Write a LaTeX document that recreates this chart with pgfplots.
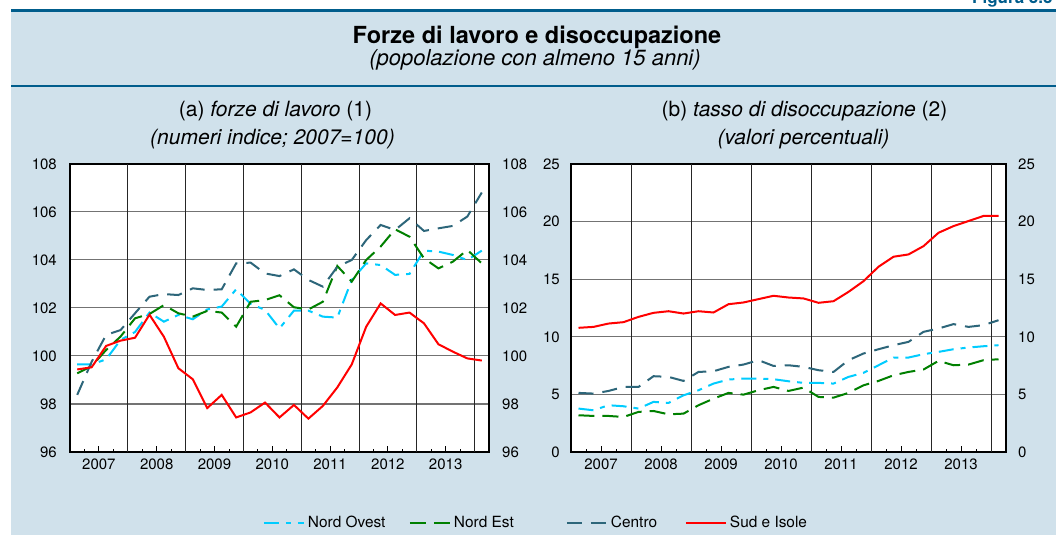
\documentclass[border=0pt]{standalone}
\usepackage{pgfplots}
\pgfplotsset{compat=1.18}
\usepackage{pgfplotstable}
\usepackage{fontspec}
\setmainfont{TeX Gyre Heros}

\definecolor{bgblue}{RGB}{208,225,235}
\definecolor{titleblue}{RGB}{0,93,140}
\definecolor{cNO}{RGB}{0,204,255}
\definecolor{cNE}{RGB}{0,128,0}
\definecolor{cCE}{RGB}{45,102,122}
\definecolor{cSI}{RGB}{255,0,0}

\pgfplotstableread{
k no ne ce si
0 99.65 99.28 98.38 99.44
1 99.65 99.58 99.76 99.53
2 99.86 100.25 100.88 100.42
3 100.67 100.81 101.08 100.64
4 101.00 101.57 101.78 100.76
5 101.81 101.75 102.47 101.72
6 101.43 102.12 102.58 100.80
7 101.71 101.78 102.54 99.49
8 101.53 101.64 102.82 99.03
9 101.94 101.88 102.75 97.83
10 102.06 101.81 102.78 98.38
11 102.78 101.22 103.86 97.44
12 102.17 102.26 103.89 97.65
13 101.92 102.33 103.44 98.06
14 101.15 102.53 103.33 97.44
15 101.89 102.03 103.61 97.96
16 101.89 101.94 103.17 97.39
17 101.64 102.26 102.89 97.92
18 101.60 103.75 103.72 98.69
19 103.17 103.10 104.00 99.65
20 103.86 104.00 104.83 101.22
21 103.79 104.56 105.46 102.19
22 103.38 105.28 105.25 101.71
23 103.42 104.97 105.74 101.81
24 104.39 104.07 105.21 101.36
25 104.35 103.65 105.32 100.49
26 104.21 103.93 105.42 100.18
27 104.00 104.42 105.81 99.90
28 104.39 103.86 106.81 99.81
}\tabA

\pgfplotstableread{
k no ne ce si
0 3.77 3.19 5.13 10.78
1 3.62 3.13 5.07 10.86
2 4.06 3.13 5.30 11.15
3 3.97 3.04 5.65 11.27
4 3.77 3.48 5.65 11.73
5 4.35 3.56 6.58 12.08
6 4.26 3.27 6.52 12.22
7 4.92 3.33 6.17 12.02
8 5.36 4.06 6.95 12.22
9 5.94 4.63 7.01 12.11
10 6.29 5.13 7.39 12.83
11 6.37 4.98 7.59 12.98
12 6.37 5.36 7.97 13.27
13 6.32 5.65 7.47 13.56
14 6.14 5.30 7.53 13.41
15 6.00 5.59 7.39 13.33
16 6.00 4.78 7.10 12.95
17 5.94 4.72 6.95 13.09
18 6.52 5.13 7.97 13.90
19 6.87 5.79 8.55 14.83
20 7.53 6.17 8.92 16.08
21 8.20 6.66 9.27 16.95
22 8.20 6.95 9.56 17.15
23 8.49 7.16 10.43 17.87
24 8.69 7.91 10.72 19.03
25 8.92 7.53 11.10 19.61
26 9.07 7.59 10.86 20.05
27 9.18 7.97 11.01 20.49
28 9.27 8.05 11.44 20.49
}\tabB

\tikzset{
  sNO/.style={draw=cNO, line width=2pt, dash pattern=on 15pt off 7pt on 5pt off 7pt},
  sNE/.style={draw=cNE, line width=2pt, dash pattern=on 16pt off 8pt},
  sCE/.style={draw=cCE, line width=2pt, dash pattern=on 15pt off 9pt},
  sSI/.style={draw=cSI, line width=2pt},
}

\pgfplotsset{
  panel/.style={
    scale only axis, height=288pt,
    xmin=-0.5, xmax=28.5, no markers,
    axis background/.style={fill=white},
    axis line style={line width=1.3pt},
    xtick={1.5,5.5,9.5,13.5,17.5,21.5,25.5},
    xticklabels={2007,2008,2009,2010,2011,2012,2013},
    minor xtick={0.5,2.5,4.5,6.5,8.5,10.5,12.5,14.5,16.5,18.5,20.5,22.5,24.5,26.5},
    xtick pos=left, ytick pos=left,
    tick align=inside,
    major tick length=6pt, minor tick length=3.5pt,
    xtick style={black, line width=0.8pt},
    ytick style={draw=none},
    ymajorgrids=true,
    major grid style={draw=black!55, line width=1pt},
    extra x ticks={3.5,7.5,11.5,15.5,19.5,23.5,27.5},
    extra x tick labels={},
    extra x tick style={grid=major, major tick length=0pt, major grid style={draw=black!85, line width=0.8pt}},
    tick label style={font=\fontsize{15}{18}\selectfont},
    /pgf/number format/assume math mode=true,
    xticklabel style={inner sep=0pt, anchor=north, yshift=-7pt},
  },
  rlab/.style={
    scale only axis, height=288pt,
    xmin=-0.5, xmax=28.5,
    hide x axis, axis y line*=right,
    y axis line style={draw=none},
    ytick style={draw=none},
    tick label style={font=\fontsize{15}{18}\selectfont},
    /pgf/number format/assume math mode=true,
  },
}

\begin{document}
\begin{tikzpicture}
\path[use as bounding box] (0pt,0pt) rectangle (1056pt,535pt);
\fill[white] (0pt,0pt) rectangle (1056pt,535pt);
\fill[bgblue] (11pt,0pt) rectangle (1056pt,523pt);
\draw[titleblue, line width=3pt] (11pt,524pt) -- (1056pt,524pt);
\draw[titleblue, line width=1.2pt] (11pt,449pt) -- (1056pt,449pt);
\node[anchor=base west, text=titleblue, font=\fontsize{17}{20}\selectfont\bfseries, inner sep=0pt] at (972pt,531pt) {Figura 3.3};
\node[anchor=base, font=\fontsize{23.5}{28}\selectfont\bfseries, inner sep=0pt] at (537pt,491pt) {Forze di lavoro e disoccupazione};
\node[anchor=base, font=\fontsize{22}{26}\selectfont\itshape, inner sep=0pt] at (535pt,469pt) {(popolazione con almeno 15 anni)};
\node[anchor=base, font=\fontsize{21}{25}\selectfont, inner sep=0pt] at (275.5pt,418pt) {(a) \textit{forze di lavoro} (1)};
\node[anchor=base, font=\fontsize{21}{25}\selectfont\itshape, inner sep=0pt] at (272.5pt,390pt) {(numeri indice; 2007=100)};
\node[anchor=base, font=\fontsize{21}{25}\selectfont, inner sep=0pt] at (804.5pt,418pt) {(b) \textit{tasso di disoccupazione} (2)};
\node[anchor=base, font=\fontsize{21}{25}\selectfont\itshape, inner sep=0pt] at (803.5pt,390pt) {(valori percentuali)};

% Panel (a)
\begin{axis}[panel, at={(70pt,83pt)}, anchor=south west, width=419pt,
  ymin=96, ymax=108, ytick={96,98,...,108},
  yticklabel style={inner sep=0pt, anchor=east, xshift=-13pt},
  legend style={at={(axis description cs:0.4606,-0.2455)}, anchor=west,
    legend columns=4, draw=none, fill=none, inner sep=0pt, outer sep=0pt,
    font=\fontsize{15.4}{18}\selectfont,
    /tikz/every odd column/.append style={column sep=3pt},
    /tikz/every even column/.append style={column sep=0pt},
    nodes={inner sep=0pt}},
  legend image code/.code={\draw[#1] (0pt,0pt) -- (40pt,0pt);},
]
\addplot[sNO] table[x=k,y=no]{\tabA};
\addlegendentry{\makebox[101pt][l]{Nord Ovest}}
\addplot[sNE] table[x=k,y=ne]{\tabA};
\addlegendentry{\makebox[112pt][l]{Nord Est}}
\addplot[sCE] table[x=k,y=ce]{\tabA};
\addlegendentry{\makebox[74pt][l]{Centro}}
\addplot[sSI] table[x=k,y=si]{\tabA};
\addlegendentry{Sud e Isole}
\end{axis}
\begin{axis}[rlab, at={(70pt,83pt)}, anchor=south west, width=419pt,
  ymin=96, ymax=108, ytick={96,98,...,108},
  yticklabel style={inner sep=0pt, anchor=west, xshift=13pt}]
\end{axis}

% Panel (b)
\begin{axis}[panel, at={(571pt,83pt)}, anchor=south west, width=435pt,
  ymin=0, ymax=25, ytick={0,5,...,25},
  yticklabel style={inner sep=0pt, anchor=east, xshift=-11pt}]
\addplot[sNO] table[x=k,y=no]{\tabB};
\addplot[sNE] table[x=k,y=ne]{\tabB};
\addplot[sCE] table[x=k,y=ce]{\tabB};
\addplot[sSI] table[x=k,y=si]{\tabB};
\end{axis}
\begin{axis}[rlab, at={(571pt,83pt)}, anchor=south west, width=435pt,
  ymin=0, ymax=25, ytick={0,5,...,25},
  yticklabel style={inner sep=0pt, anchor=west, xshift=12pt}]
\end{axis}
\end{tikzpicture}
\end{document}
